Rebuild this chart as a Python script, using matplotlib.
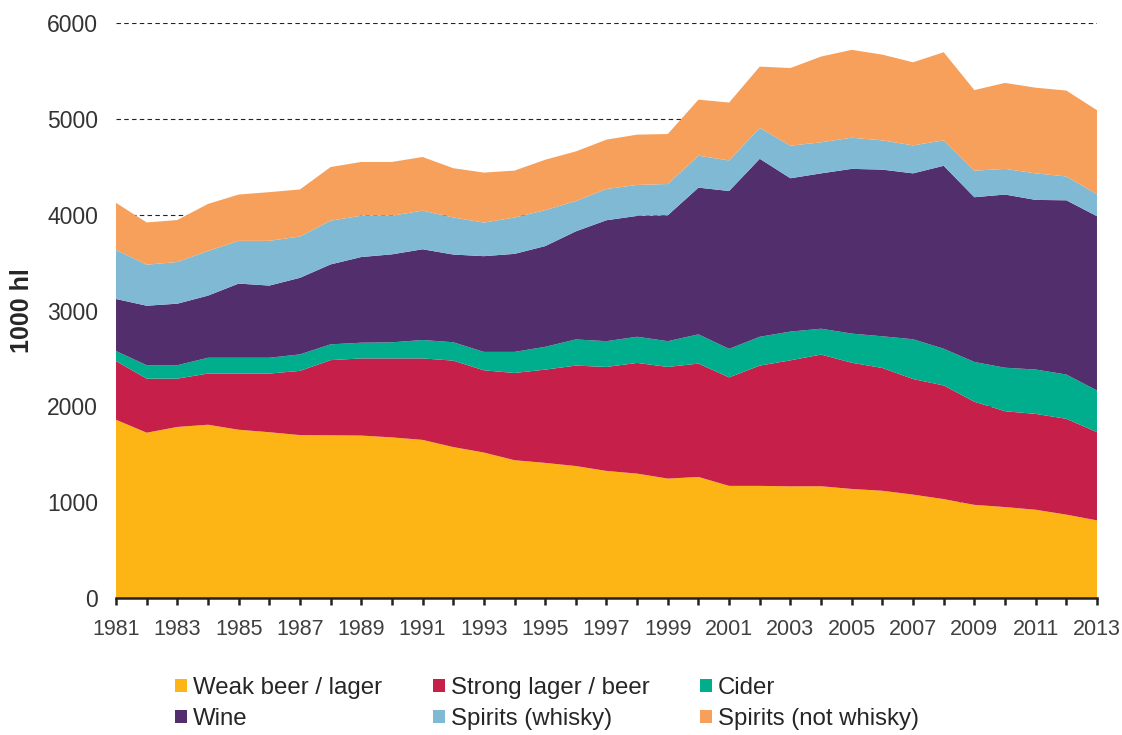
import matplotlib
matplotlib.use("Agg")
import matplotlib.pyplot as plt
from matplotlib.patches import Patch

plt.rcParams['font.family'] = ['Liberation Sans', 'DejaVu Sans']

years = list(range(1981, 2014))

# 1000 hl per category
weak_beer = [1860, 1725, 1785, 1808, 1756, 1730, 1700, 1698, 1695, 1676, 1650,
             1575, 1518, 1438, 1410, 1377, 1326, 1298, 1246, 1263, 1170, 1170,
             1165, 1166, 1138, 1119, 1079, 1032, 972, 949, 921, 870, 810]
strong_beer = [612, 564, 504, 534, 586, 612, 670, 784, 805, 824, 850,
               902, 858, 910, 973, 1048, 1085, 1155, 1165, 1183, 1132, 1255,
               1315, 1374, 1317, 1281, 1206, 1186, 1076, 1000, 1000, 1000, 921]
cider = [105, 140, 140, 165, 165, 165, 172, 165, 164, 168, 192,
         192, 192, 220, 238, 273, 269, 273, 269, 305, 298, 301,
         300, 270, 304, 331, 415, 383, 415, 454, 463, 462, 435]
wine = [543, 621, 642, 648, 774, 753, 799, 834, 894, 918, 947,
        915, 999, 1023, 1051, 1128, 1262, 1261, 1314, 1531, 1647, 1857,
        1600, 1621, 1719, 1739, 1731, 1909, 1719, 1807, 1770, 1818, 1818]
whisky = [512, 428, 435, 466, 446, 467, 431, 456, 431, 403, 403,
          387, 350, 379, 375, 316, 326, 323, 326, 333, 319, 322,
          340, 324, 325, 305, 292, 265, 277, 268, 277, 249, 230]
not_whisky = [491, 441, 438, 491, 483, 508, 491, 560, 561, 561, 560,
              514, 522, 490, 526, 518, 515, 525, 522, 585, 604, 640,
              810, 895, 917, 895, 867, 920, 841, 897, 894, 896, 876]

labels = ['Weak beer / lager', 'Strong lager / beer', 'Cider', 'Wine',
          'Spirits (whisky)', 'Spirits (not whisky)']
colors = ['#FDB515', '#C51F4A', '#00AE8E', '#532E6C', '#7FB9D4', '#F6A05C']


def main():
    fig = plt.figure(figsize=(11.22, 7.35), dpi=100)
    ax = fig.add_axes([0.1034, 0.1864, 0.8743, 0.7823])

    ax.stackplot(years, weak_beer, strong_beer, cider, wine, whisky, not_whisky,
                 colors=colors, linewidth=0)

    ax.set_xlim(1981, 2013)
    ax.set_ylim(0, 6000)
    ax.set_yticks([0, 1000, 2000, 3000, 4000, 5000, 6000])
    ax.set_xticks(years)
    ax.set_xticklabels([str(y) if (y - 1981) % 2 == 0 else '' for y in years])

    ax.set_axisbelow(True)
    ax.yaxis.grid(True, linestyle=(0, (4, 3)), color='#222222', linewidth=0.8)

    for s in ['top', 'right', 'left']:
        ax.spines[s].set_visible(False)
    ax.spines['bottom'].set_linewidth(1.8)
    ax.spines['bottom'].set_color('#222222')

    ax.tick_params(axis='y', length=0, pad=13, labelsize=16.5, labelcolor='#333333')
    ax.tick_params(axis='x', length=5, width=1.8, color='#222222', pad=10,
                   labelsize=15.5, labelcolor='#404040')
    ax.set_ylabel('1000 hl', fontsize=18, fontweight='bold', color='#262626', labelpad=9)

    # legend fills column by column
    order = [0, 3, 1, 4, 2, 5]
    handles = [Patch(facecolor=colors[i], edgecolor='none') for i in order]
    fig.legend(handles, [labels[i] for i in order], ncol=3, loc='upper left',
               bbox_to_anchor=(0.156, 0.079), frameon=False, fontsize=17.3,
               labelcolor='#262626', borderpad=0, borderaxespad=0,
               handlelength=0.5, handleheight=0.5, handletextpad=0.25,
               columnspacing=2.1, labelspacing=0.38)

    fig.savefig('out.png', dpi=100)


if __name__ == "__main__":
    main()
